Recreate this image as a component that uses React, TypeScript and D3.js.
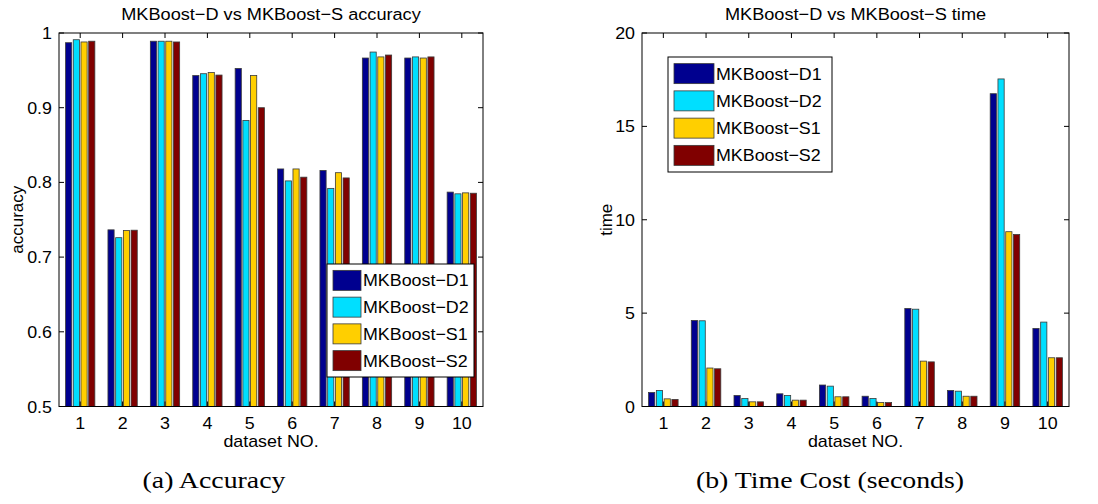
import React from "react";
import * as d3 from "d3";

const datasets = ["1", "2", "3", "4", "5", "6", "7", "8", "9", "10"];
const seriesNames = ["MKBoost\u2212D1", "MKBoost\u2212D2", "MKBoost\u2212S1", "MKBoost\u2212S2"];
const seriesColors = ["#00008F", "#00DFFF", "#FFCF00", "#800000"];

const accD1 = [0.987, 0.7365, 0.989, 0.943, 0.9526, 0.818, 0.816, 0.9665, 0.9665, 0.787];
const accD2 = [0.991, 0.726, 0.989, 0.9455, 0.883, 0.802, 0.792, 0.9745, 0.968, 0.7847];
const accS1 = [0.988, 0.7355, 0.989, 0.947, 0.943, 0.818, 0.813, 0.968, 0.9665, 0.786];
const accS2 = [0.989, 0.736, 0.988, 0.9437, 0.9, 0.807, 0.806, 0.9705, 0.968, 0.7855];

const timeD1 = [0.75, 4.61, 0.59, 0.68, 1.15, 0.55, 5.25, 0.86, 16.75, 4.18];
const timeD2 = [0.86, 4.59, 0.43, 0.59, 1.09, 0.43, 5.21, 0.82, 17.54, 4.52];
const timeS1 = [0.41, 2.06, 0.25, 0.34, 0.52, 0.21, 2.43, 0.55, 9.36, 2.61];
const timeS2 = [0.38, 2.02, 0.25, 0.34, 0.52, 0.21, 2.39, 0.55, 9.21, 2.61];

const accTicks = [0.5, 0.6, 0.7, 0.8, 0.9, 1];
const accTickLabels = ["0.5", "0.6", "0.7", "0.8", "0.9", "1"];
const timeTicks = [0, 5, 10, 15, 20];
const timeTickLabels = ["0", "5", "10", "15", "20"];

const SANS = "'Liberation Sans', Arial, Helvetica, sans-serif";
const SERIF = "'Liberation Serif', 'Times New Roman', serif";
const SX = 1.05;
const FS = 17;

function SText(props: any) {
  const { x, y, sx = SX, children, ...rest } = props;
  return (
    <text transform={`translate(${x},${y}) scale(${sx},1)`} {...rest}>
      {children}
    </text>
  );
}

type PanelProps = {
  left: number; right: number; top: number; bottom: number;
  domain: [number, number];
  ticks: number[]; tickLabels: string[];
  series: number[][];
  title: string; ylabel: string; ylabelX: number;
  legend: { x: number; y: number; w: number; h: number; pw: number };
  caption: string; captionX: number;
};

function Panel(p: PanelProps) {
  const x = d3.scaleLinear().domain([0.5, 10.5]).range([p.left, p.right]);
  const y = d3.scaleLinear().domain(p.domain).range([p.bottom, p.top]);
  const n = p.series.length;
  const groupWidth = Math.min(0.8, n / (n + 1.5));
  const barW = (groupWidth / n) * 0.8;
  const tickLen = 5;
  const cx = (p.left + p.right) / 2;
  const clipId = "clip" + p.left;
  const rowH = (p.legend.h - 6) / n;
  return (
    <g>
      <defs>
        <clipPath id={clipId}>
          <rect x={p.left} y={p.top} width={p.right - p.left} height={p.bottom - p.top} />
        </clipPath>
      </defs>
      <rect x={p.left} y={p.top} width={p.right - p.left} height={p.bottom - p.top} fill="#fff" />
      <g clipPath={`url(#${clipId})`}>
        {p.series.map((vals, si) =>
          vals.map((v, i) => {
            const c = i + 1 - groupWidth / 2 + ((2 * si + 1) * groupWidth) / (2 * n);
            const x0 = x(c - barW / 2);
            const x1 = x(c + barW / 2);
            const yv = y(v);
            return (
              <rect key={si + "-" + i} x={x0} y={yv} width={x1 - x0} height={p.bottom - yv + 2}
                fill={seriesColors[si]} stroke="#3a3a3a" strokeWidth={0.8} />
            );
          })
        )}
      </g>
      {datasets.map((d, i) => (
        <g key={"xt" + i}>
          <line x1={x(i + 1)} x2={x(i + 1)} y1={p.bottom} y2={p.bottom - tickLen} stroke="#000" />
          <line x1={x(i + 1)} x2={x(i + 1)} y1={p.top} y2={p.top + tickLen} stroke="#000" />
          <SText x={x(i + 1)} y={p.bottom + 22.5} textAnchor="middle" fontFamily={SANS} fontSize={FS}>{d}</SText>
        </g>
      ))}
      {p.ticks.map((t, i) => (
        <g key={"yt" + i}>
          <line x1={p.left} x2={p.left + tickLen} y1={y(t)} y2={y(t)} stroke="#000" />
          <line x1={p.right} x2={p.right - tickLen} y1={y(t)} y2={y(t)} stroke="#000" />
          <SText x={p.left - 7} y={y(t) + 6} textAnchor="end" fontFamily={SANS} fontSize={FS}>{p.tickLabels[i]}</SText>
        </g>
      ))}
      <rect x={p.left} y={p.top} width={p.right - p.left} height={p.bottom - p.top} fill="none" stroke="#000" strokeWidth={1} />
      <SText x={cx} y={20} textAnchor="middle" fontFamily={SANS} fontSize={17.3}>{p.title}</SText>
      <SText x={cx} y={p.bottom + 40.5} textAnchor="middle" fontFamily={SANS} fontSize={FS}>dataset NO.</SText>
      <text transform={`translate(${p.ylabelX},${(p.top + p.bottom) / 2}) rotate(-90)`} textAnchor="middle"
        fontFamily={SANS} fontSize={FS}>{p.ylabel}</text>
      <rect x={p.legend.x} y={p.legend.y} width={p.legend.w} height={p.legend.h} fill="#fff" stroke="#000" strokeWidth={1} />
      {seriesNames.map((s, i) => {
        const cy = p.legend.y + 3 + rowH * (i + 0.5);
        return (
          <g key={"lg" + i}>
            <rect x={p.legend.x + 6} y={cy - 10} width={p.legend.pw} height={20} fill={seriesColors[i]} stroke="#3a3a3a" strokeWidth={0.8} />
            <SText x={p.legend.x + p.legend.pw + 8} y={cy + 6} fontFamily={SANS} fontSize={FS}>{s}</SText>
          </g>
        );
      })}
      <SText x={p.captionX} y={488} sx={1.21} textAnchor="middle" fontFamily={SERIF} fontSize={23}>{p.caption}</SText>
    </g>
  );
}

export default function App() {
  return (
    <svg width={1098} height={504} style={{ position: "absolute", left: 0, top: 0, background: "#fff" }}>
      <rect width={1098} height={504} fill="#fff" />
      <Panel left={59} right={483} top={33} bottom={406.5} domain={[0.5, 1]}
        ticks={accTicks} tickLabels={accTickLabels}
        series={[accD1, accD2, accS1, accS2]}
        title={"MKBoost\u2212D vs MKBoost\u2212S accuracy"} ylabel="accuracy" ylabelX={23}
        legend={{ x: 327, y: 264, w: 147, h: 113, pw: 28 }}
        caption="(a) Accuracy" captionX={214} />
      <Panel left={642} right={1069} top={33} bottom={406.5} domain={[0, 20]}
        ticks={timeTicks} tickLabels={timeTickLabels}
        series={[timeD1, timeD2, timeS1, timeS2]}
        title={"MKBoost\u2212D vs MKBoost\u2212S time"} ylabel="time" ylabelX={612}
        legend={{ x: 668, y: 57, w: 164, h: 115, pw: 40 }}
        caption="(b) Time Cost (seconds)" captionX={830} />
    </svg>
  );
}
